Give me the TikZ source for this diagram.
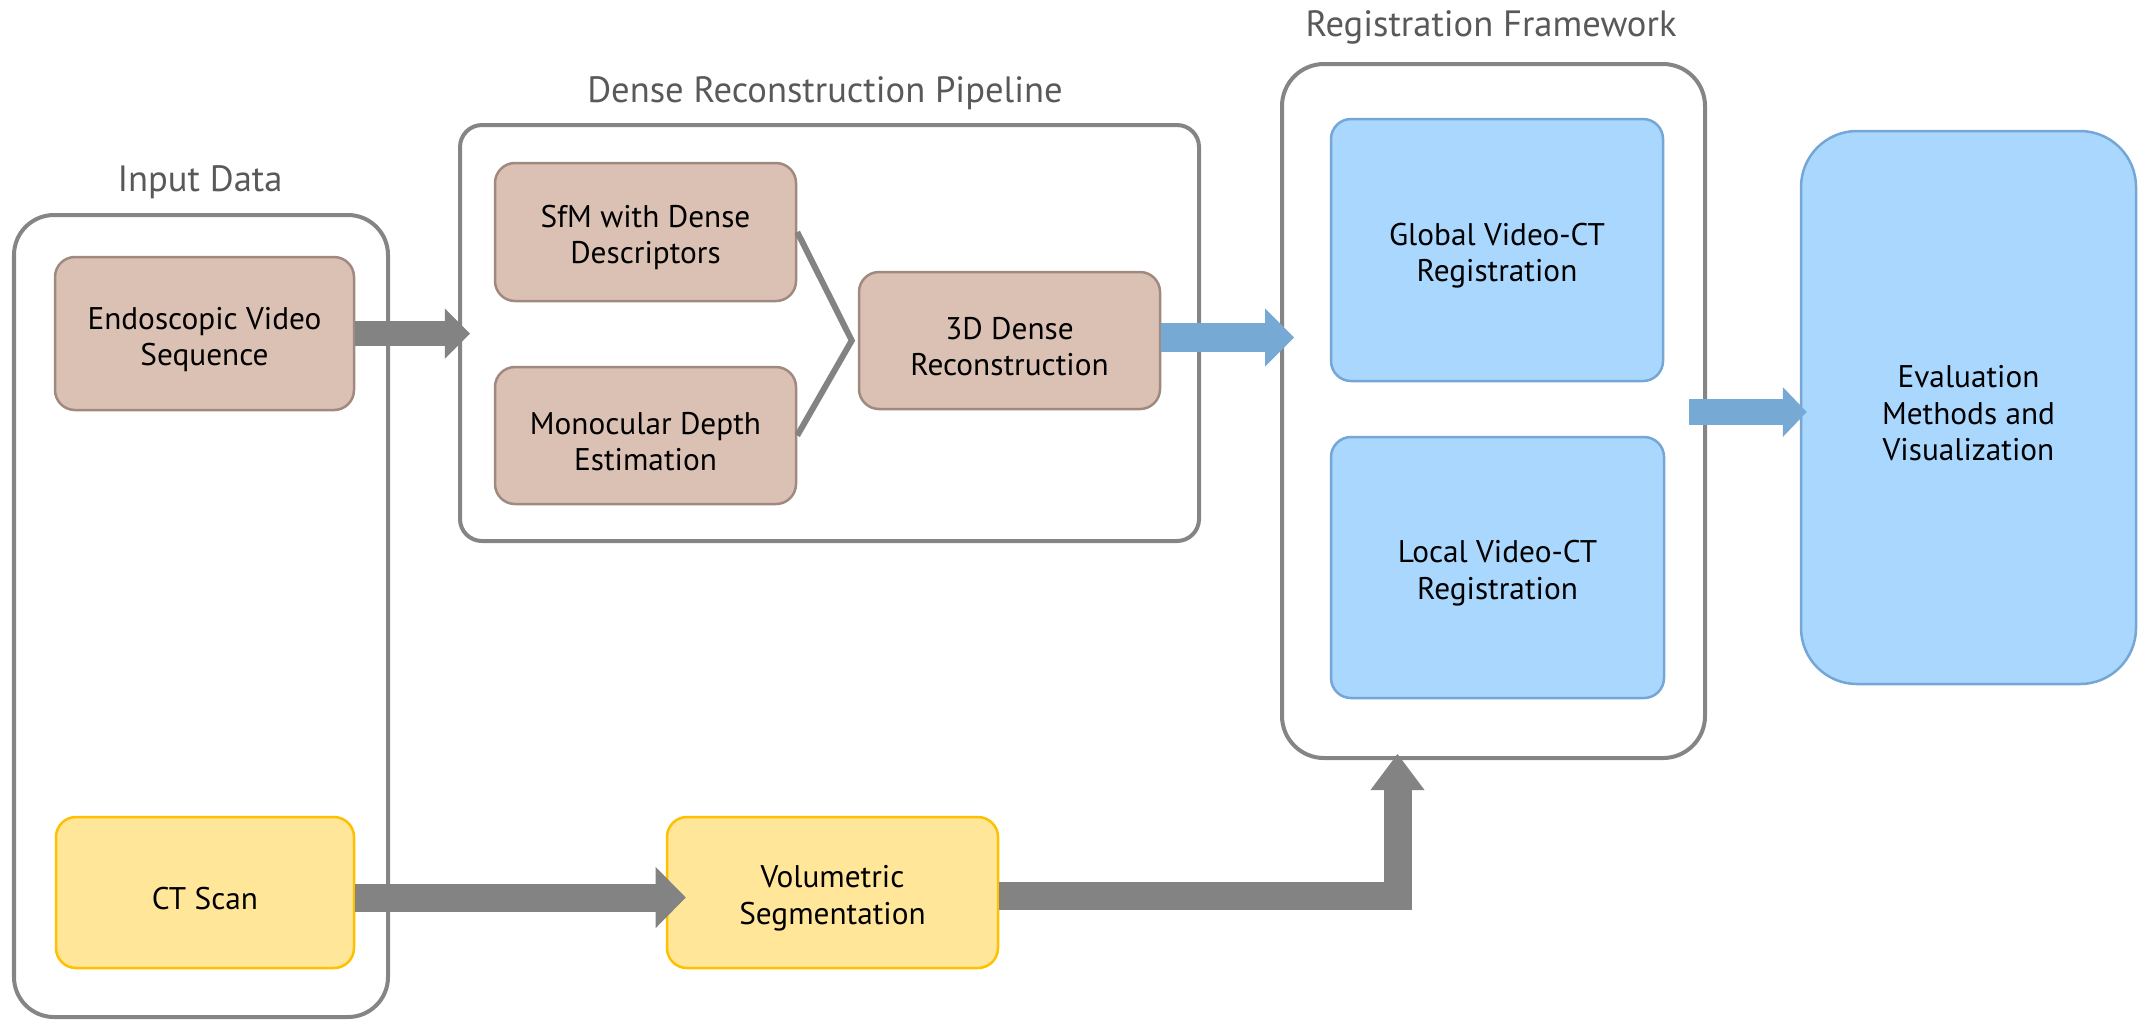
\documentclass[tikz,border=0pt]{standalone}
\usepackage{fontspec}
\setmainfont{PT Sans}
\usetikzlibrary{arrows.meta,calc}

\definecolor{framegray}{HTML}{858585}
\definecolor{labelgray}{HTML}{595959}
\definecolor{arrowgray}{HTML}{838383}
\definecolor{tanfill}{HTML}{DBC1B4}
\definecolor{tanline}{HTML}{A08A80}
\definecolor{skyfill}{HTML}{A9D7FE}
\definecolor{skyline}{HTML}{74A6D6}
\definecolor{skyarrow}{HTML}{77A9D5}
\definecolor{sunfill}{HTML}{FFE699}
\definecolor{sunline}{HTML}{FFC000}

% extra room above the first text line of a stage box
\newcommand{\toproom}{\rule{0pt}{9.6pt}}

\tikzset{
  stage/.style={rectangle, rounded corners=0.2cm, line width=0.025cm,
    align=center, text=black, inner sep=0pt,
    font=\fontsize{8.9pt}{10.3pt}\selectfont},
  tanbox/.style={stage, fill=tanfill, draw=tanline},
  skybox/.style={stage, fill=skyfill, draw=skyline},
  sunbox/.style={stage, fill=sunfill, draw=sunline},
  group/.style={rectangle, draw=framegray, line width=0.04cm, fill=white},
  grouptitle/.style={text=labelgray, inner sep=0pt,
    font=\fontsize{10.4pt}{12pt}\selectfont},
  blockarrow/.style n args={4}{draw=#1, line width=#2,
    -{Triangle[length=#3, width=#4, line width=0pt]}},
  mergeline/.style={draw=arrowgray, line width=0.06cm}
}

\begin{document}
\begin{tikzpicture}[x=0.01cm, y=-0.01cm]
\useasboundingbox (0,0) rectangle (2146,1020);

% group frames
\node[group, rounded corners=0.4cm, minimum width=374*0.01cm, minimum height=802*0.01cm]
  (inputgrp) at (201,616) {};
\node[group, rounded corners=0.22cm, minimum width=739*0.01cm, minimum height=416*0.01cm]
  (pipegrp) at (829.5,333) {};
\node[group, rounded corners=0.42cm, minimum width=423*0.01cm, minimum height=694*0.01cm]
  (reggrp) at (1493.5,411) {};

% group titles
\node[grouptitle] (inputtitle) at (200,182) {Input Data};
\node[grouptitle] (pipetitle) at (825,93) {Dense Reconstruction Pipeline};
\node[grouptitle] (regtitle) at (1491,27) {Registration Framework};

% stages
\node[tanbox, minimum width=299*0.01cm, minimum height=153*0.01cm]
  (endo) at (204.5,333.5) {\toproom Endoscopic Video\\Sequence};
\node[tanbox, minimum width=301*0.01cm, minimum height=138*0.01cm]
  (sfm) at (645.5,232) {\toproom SfM with Dense\\Descriptors};
\node[tanbox, minimum width=301*0.01cm, minimum height=137*0.01cm]
  (mono) at (645.5,435.5) {\toproom Monocular Depth\\Estimation};
\node[tanbox, minimum width=301*0.01cm, minimum height=137*0.01cm]
  (dense) at (1009.5,340.5) {\toproom 3D Dense\\Reconstruction};

\node[skybox, minimum width=332*0.01cm, minimum height=262*0.01cm]
  (glob) at (1497,250) {\toproom Global Video-CT\\Registration};
\node[skybox, minimum width=333*0.01cm, minimum height=261*0.01cm]
  (local) at (1497.5,567.5) {\toproom Local Video-CT\\Registration};
\node[skybox, rounded corners=0.56cm, minimum width=335*0.01cm, minimum height=553*0.01cm]
  (eval) at (1968.5,407.5) {\toproom Evaluation\\Methods and\\Visualization};

\node[sunbox, minimum width=298*0.01cm, minimum height=151*0.01cm]
  (ct) at (205,892.5) {\toproom CT Scan};
\node[sunbox, minimum width=331*0.01cm, minimum height=151*0.01cm]
  (vol) at (832.5,892.5) {\toproom Volumetric\\Segmentation};

% merging of the two reconstruction branches
\coordinate (meet) at ($(dense.west)+(-6,0)$);
\draw[mergeline] (sfm.east) -- (meet) -- (mono.east);

% flow arrows
\draw[blockarrow={arrowgray}{0.25cm}{0.25cm}{0.5cm}]
  (endo.east) -- ($(pipegrp.west |- endo.east)+(12,0)$);
\draw[blockarrow={skyarrow}{0.29cm}{0.29cm}{0.58cm}]
  ($(dense.east)+(0,-3)$) -- ($(reggrp.west |- dense.east)+(14,-3)$);
\draw[blockarrow={skyarrow}{0.26cm}{0.24cm}{0.5cm}]
  ($(reggrp.east)+(-18,1)$) -- ($(eval.west |- reggrp.east)+(7,1)$);
\draw[blockarrow={arrowgray}{0.28cm}{0.3cm}{0.61cm}]
  ($(ct.east)+(0,5)$) -- ($(vol.west)+(20,5)$);
\draw[blockarrow={arrowgray}{0.28cm}{0.36cm}{0.54cm}]
  ($(vol.east)+(0,3)$) -| ($(reggrp.south)+(-96,-6)$);
\end{tikzpicture}
\end{document}
